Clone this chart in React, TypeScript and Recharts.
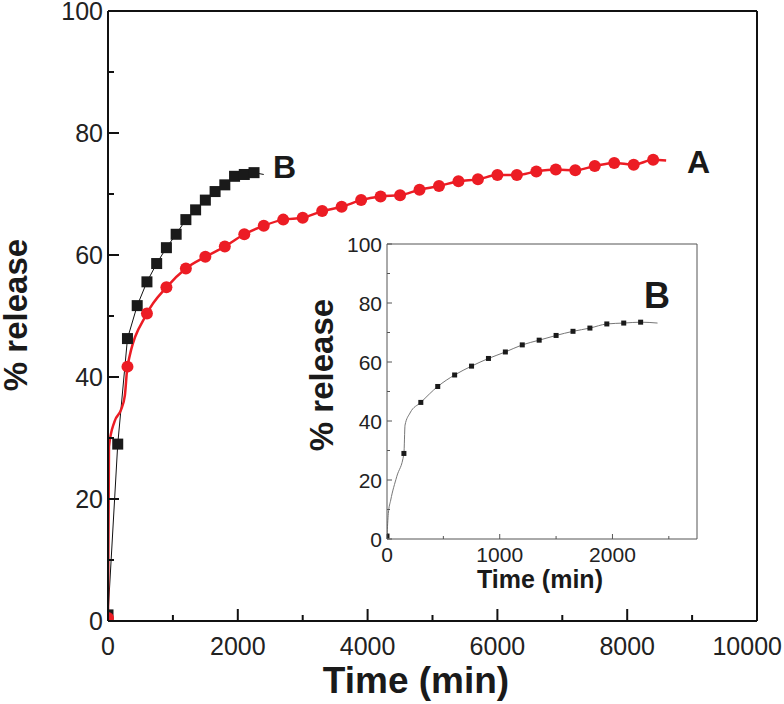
import React from 'react'
import { ComposedChart, Line, Scatter, XAxis, YAxis, ReferenceLine } from 'recharts'

// sample A: marker times (min) and % release
const aTime = [0, 300, 600, 900, 1200, 1500, 1800, 2100, 2400, 2700, 3000, 3300, 3600, 3900, 4200, 4500, 4800, 5100, 5400, 5700, 6000, 6300, 6600, 6900, 7200, 7500, 7800, 8100, 8400]
const aRelease = [0.5, 41.7, 50.4, 54.7, 57.8, 59.7, 61.4, 63.4, 64.8, 65.8, 66.1, 67.2, 67.9, 69.0, 69.6, 69.8, 70.7, 71.3, 72.1, 72.4, 73.1, 73.1, 73.7, 74.0, 73.9, 74.6, 75.1, 74.8, 75.6]
// extra points of the continuous trace of A (burst phase and tail)
const aTraceTime = [15, 100, 200, 260, 8600]
const aTraceRelease = [28.6, 32.7, 34.6, 37.0, 75.5]

// sample B
const bTime = [0, 150, 300, 450, 600, 750, 900, 1050, 1200, 1350, 1500, 1650, 1800, 1950, 2100, 2250]
const bRelease = [1.0, 29.0, 46.3, 51.7, 55.6, 58.6, 61.2, 63.4, 65.8, 67.4, 69.0, 70.4, 71.5, 72.9, 73.2, 73.5]
const bTraceTime = [12, 33, 86, 160, 204, 2400]
const bTraceRelease = [8.7, 13.2, 21.1, 38.6, 42.7, 73.2]

const mainXTicks = [0, 1000, 2000, 3000, 4000, 5000, 6000, 7000, 8000, 9000, 10000]
const mainYTicks = [0, 10, 20, 30, 40, 50, 60, 70, 80, 90, 100]
const insetXTicks = [0, 500, 1000, 1500, 2000, 2500]
const insetYTicks = [0, 10, 20, 30, 40, 50, 60, 70, 80, 90, 100]

const FONT = "'Liberation Sans', Arial, Helvetica, sans-serif"
const RED = '#ec1c24'

const zip = (t: number[], v: number[]) => t.map((x, i) => ({ t: x, v: v[i] }))
const byTime = (a: { t: number; v: number }, b: { t: number; v: number }) => a.t - b.t

const aPoints = zip(aTime, aRelease)
const aLine = [...aPoints, ...zip(aTraceTime, aTraceRelease)].sort(byTime)
const bPoints = zip(bTime, bRelease)
const bMainLine = [...bPoints, { t: bTraceTime[bTraceTime.length - 1], v: bTraceRelease[bTraceRelease.length - 1] }]
const bInsetLine = [...bPoints, ...zip(bTraceTime, bTraceRelease)].sort(byTime)

function makeYTick(majorEvery: number, major: number, minor: number, size: number, gap: number, color: string, width: number) {
  return (p: any) => {
    const v = p.payload.value
    const isMajor = v % majorEvery === 0
    return (
      <g>
        <line x1={p.x} x2={p.x + (isMajor ? major : minor)} y1={p.y} y2={p.y} stroke={color} strokeWidth={width} />
        {isMajor && (
          <text x={p.x - gap} y={p.y} dy="0.36em" textAnchor="end" fontSize={size} fontFamily={FONT} fill="#222">
            {v}
          </text>
        )}
      </g>
    )
  }
}

// lastMax: value whose label is pushed left so it stays inside the page
function makeXTick(majorEvery: number, major: number, minor: number, size: number, base: number, color: string, width: number, lastMax?: number) {
  return (p: any) => {
    const v = p.payload.value
    const isMajor = v % majorEvery === 0
    const atEdge = lastMax !== undefined && v === lastMax
    return (
      <g>
        <line x1={p.x} x2={p.x} y1={p.y} y2={p.y - (isMajor ? major : minor)} stroke={color} strokeWidth={width} />
        {isMajor && (
          <text
            x={atEdge ? p.x + 25 : p.x}
            y={p.y + base}
            textAnchor={atEdge ? 'end' : 'middle'}
            fontSize={size}
            fontFamily={FONT}
            fill="#222"
          >
            {v}
          </text>
        )}
      </g>
    )
  }
}

const square = (side: number, fill: string) => (p: any) => (
  <rect x={p.cx - side / 2} y={p.cy - side / 2} width={side} height={side} fill={fill} />
)
const circle = (r: number, fill: string) => (p: any) => <circle cx={p.cx} cy={p.cy} r={r} fill={fill} />

export default function App() {
  return (
    <div style={{ position: 'absolute', left: 0, top: 0, width: 784, height: 704, background: '#fff', fontFamily: FONT }}>
      <ComposedChart width={784} height={704} margin={{ top: 11, right: 27, bottom: 0, left: 0 }}>
        <XAxis
          type="number"
          dataKey="t"
          domain={[0, 10000]}
          ticks={mainXTicks}
          interval={0}
          allowDataOverflow
          height={83}
          tickSize={0}
          tickMargin={0}
          axisLine={{ stroke: '#111', strokeWidth: 2 }}
          tickLine={false}
          tick={makeXTick(2000, 12, 6, 25, 34, '#111', 2, 10000)}
        />
        <YAxis
          type="number"
          domain={[0, 100]}
          ticks={mainYTicks}
          interval={0}
          allowDataOverflow
          width={108}
          tickSize={0}
          tickMargin={0}
          axisLine={{ stroke: '#111', strokeWidth: 2 }}
          tickLine={false}
          tick={makeYTick(20, 11, 6, 25, 5, '#111', 2)}
        />
        <ReferenceLine y={100} stroke="#111" strokeWidth={2} />
        <ReferenceLine x={10000} stroke="#111" strokeWidth={2} />
        <Line data={bMainLine} dataKey="v" type="linear" stroke="#111" strokeWidth={1} dot={false} isAnimationActive={false} />
        <Scatter data={bPoints} dataKey="v" shape={square(11, '#1a1a1a')} isAnimationActive={false} />
        <Line data={aLine} dataKey="v" type="monotone" stroke={RED} strokeWidth={2.5} dot={false} isAnimationActive={false} />
        <Scatter data={aPoints} dataKey="v" shape={circle(6, RED)} isAnimationActive={false} />
      </ComposedChart>

      <div style={{ position: 'absolute', left: 300, top: 230 }}>
        <ComposedChart width={420} height={380} margin={{ top: 14, right: 23, bottom: 0, left: 0 }}>
          <XAxis
            type="number"
            dataKey="t"
            domain={[0, 2750]}
            ticks={insetXTicks}
            interval={0}
            allowDataOverflow
            height={71}
            tickSize={0}
            tickMargin={0}
            axisLine={{ stroke: '#555', strokeWidth: 1 }}
            tickLine={false}
            tick={makeXTick(1000, 5, 3, 21, 23, '#555', 1)}
          />
          <YAxis
            type="number"
            domain={[0, 100]}
            ticks={insetYTicks}
            interval={0}
            allowDataOverflow
            width={87}
            tickSize={0}
            tickMargin={0}
            axisLine={{ stroke: '#555', strokeWidth: 1 }}
            tickLine={false}
            tick={makeYTick(20, 5, 3, 21, 5, '#555', 1)}
          />
          <ReferenceLine y={100} stroke="#555" strokeWidth={1} />
          <ReferenceLine x={2750} stroke="#555" strokeWidth={1} />
          <Line data={bInsetLine} dataKey="v" type="monotone" stroke="#777" strokeWidth={1} dot={false} isAnimationActive={false} />
          <Scatter data={bPoints} dataKey="v" shape={square(5, '#1a1a1a')} isAnimationActive={false} />
        </ComposedChart>
      </div>

      <svg width={784} height={704} style={{ position: 'absolute', left: 0, top: 0, pointerEvents: 'none' }}>
        <g fontFamily={FONT} fontWeight="bold" fill="#1a1a1a">
          <text transform="translate(27,315) rotate(-90)" textAnchor="middle" fontSize={33}>% release</text>
          <text x={416} y={693} textAnchor="middle" fontSize={37}>Time (min)</text>
          <text transform="translate(333,375) rotate(-90)" textAnchor="middle" fontSize={33}>% release</text>
          <text x={540} y={588} textAnchor="middle" fontSize={25}>Time (min)</text>
          <text x={273} y={178} fontSize={32}>B</text>
          <text x={687} y={173} fontSize={32}>A</text>
          <text x={644} y={308} fontSize={36}>B</text>
        </g>
      </svg>
    </div>
  )
}
